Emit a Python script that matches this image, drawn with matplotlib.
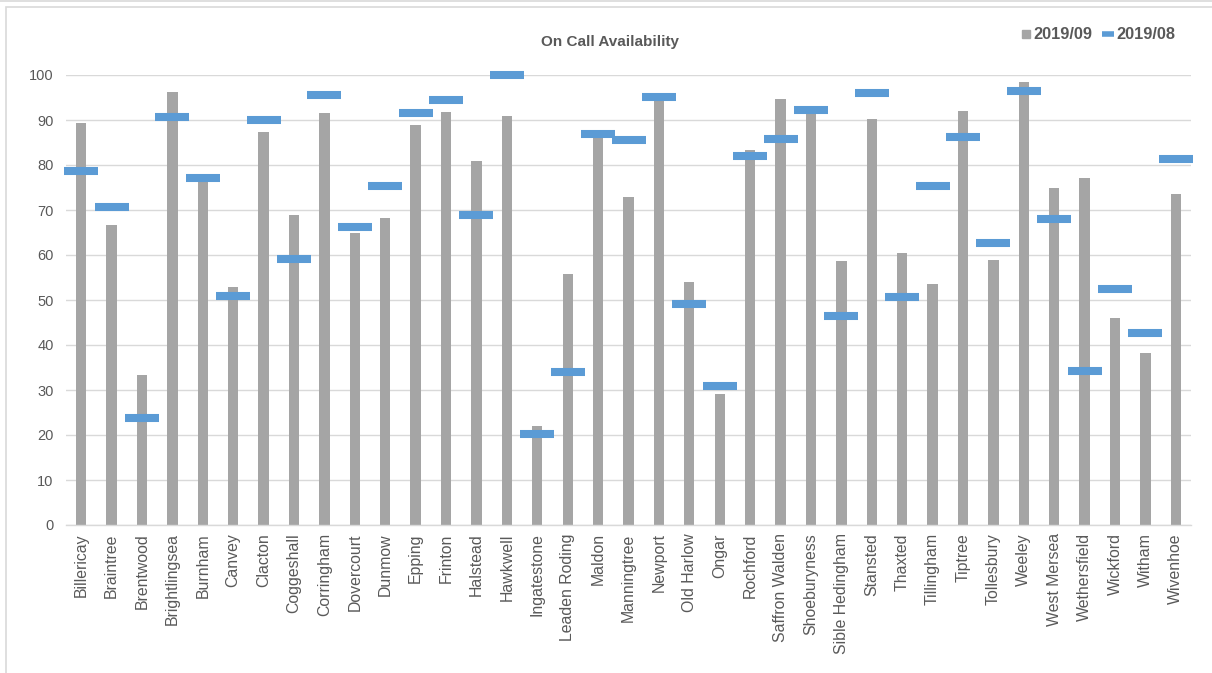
import matplotlib.pyplot as plt
from matplotlib.lines import Line2D
from matplotlib.patches import Rectangle
import numpy as np

plt.rcParams['font.family'] = ['Liberation Sans', 'DejaVu Sans']

stations = ["Billericay", "Braintree", "Brentwood", "Brightlingsea", "Burnham",
            "Canvey", "Clacton", "Coggeshall", "Corringham", "Dovercourt",
            "Dunmow", "Epping", "Frinton", "Halstead", "Hawkwell",
            "Ingatestone", "Leaden Roding", "Maldon", "Manningtree", "Newport",
            "Old Harlow", "Ongar", "Rochford", "Saffron Walden", "Shoeburyness",
            "Sible Hedingham", "Stansted", "Thaxted", "Tillingham", "Tiptree",
            "Tollesbury", "Weeley", "West Mersea", "Wethersfield", "Wickford",
            "Witham", "Wivenhoe"]

# 2019/09 availability (bars)
sep_2019 = [89.3, 66.7, 33.3, 96.3, 76.3,
            53.0, 87.3, 68.9, 91.6, 65.0,
            68.3, 88.8, 91.8, 81.0, 91.0,
            21.9, 55.8, 86.3, 72.8, 94.4,
            54.1, 29.1, 83.3, 94.7, 91.5,
            58.6, 90.3, 60.4, 53.6, 92.0,
            59.0, 98.4, 74.8, 77.1, 46.1,
            38.3, 73.6]

# 2019/08 availability (markers)
aug_2019 = [78.6, 70.7, 23.8, 90.7, 77.1,
            50.8, 90.1, 59.2, 95.6, 66.3,
            75.3, 91.6, 94.4, 68.9, 100.0,
            20.2, 34.0, 86.9, 85.6, 95.2,
            49.1, 30.9, 82.1, 85.7, 92.2,
            46.4, 95.9, 50.7, 75.3, 86.3,
            62.6, 96.5, 68.0, 34.2, 52.4,
            42.7, 81.4]

text_col = "#595959"
grey = "#A5A5A5"
blue = "#5B9BD5"

fig = plt.figure(figsize=(12.12, 6.73), dpi=100)
ax = fig.add_axes([66 / 1212, 148 / 673, 1125 / 1212, 450 / 673])

x = np.arange(len(stations))
ax.bar(x, sep_2019, width=0.34, color=grey, zorder=2)
ax.plot(x, aug_2019, linestyle="none", marker="_", markersize=24.5,
        markeredgewidth=5.8, color=blue, zorder=3, clip_on=False)

ax.set_xlim(-0.5, len(stations) - 0.5)
ax.set_ylim(0, 100)
ax.set_yticks(range(0, 101, 10))
ax.yaxis.grid(True, color="#D9D9D9", linewidth=1.0)
ax.set_axisbelow(True)
for side in ["top", "right", "left"]:
    ax.spines[side].set_visible(False)
ax.spines["bottom"].set_color("#D9D9D9")
ax.spines["bottom"].set_linewidth(1.0)

ax.set_xticks(x)
ax.set_xticklabels(stations, rotation=90, fontsize=11.4, color=text_col)
ax.tick_params(axis="x", length=0, pad=6)
ax.tick_params(axis="y", length=0, pad=9, labelsize=10.5, labelcolor=text_col)

fig.text(0.503, 0.937, "On Call Availability", ha="center", va="center",
         fontsize=11, fontweight="bold", color=text_col)

handles = [Line2D([], [], linestyle="none", marker="s", markersize=6, color=grey),
           Line2D([], [], linestyle="none", marker="_", markersize=9,
                  markeredgewidth=4, color=blue)]
fig.legend(handles, ["2019/09", "2019/08"], loc="center", ncol=2,
           bbox_to_anchor=(0.906, 0.948), frameon=False, handlelength=0.55,
           handletextpad=0.2, columnspacing=0.7,
           prop={"size": 11.8, "weight": "bold"}, labelcolor=text_col)

# outer frame
fig.add_artist(Line2D([0, 1], [1 - 0.7 / 673] * 2, color="#D9D9D9", linewidth=1.2))
fig.add_artist(Rectangle((6 / 1212, -0.05), 1.1, 1 - 7 / 673 + 0.05, fill=False,
                         edgecolor="#D9D9D9", linewidth=1.2))

fig.savefig("out.png", dpi=100)
